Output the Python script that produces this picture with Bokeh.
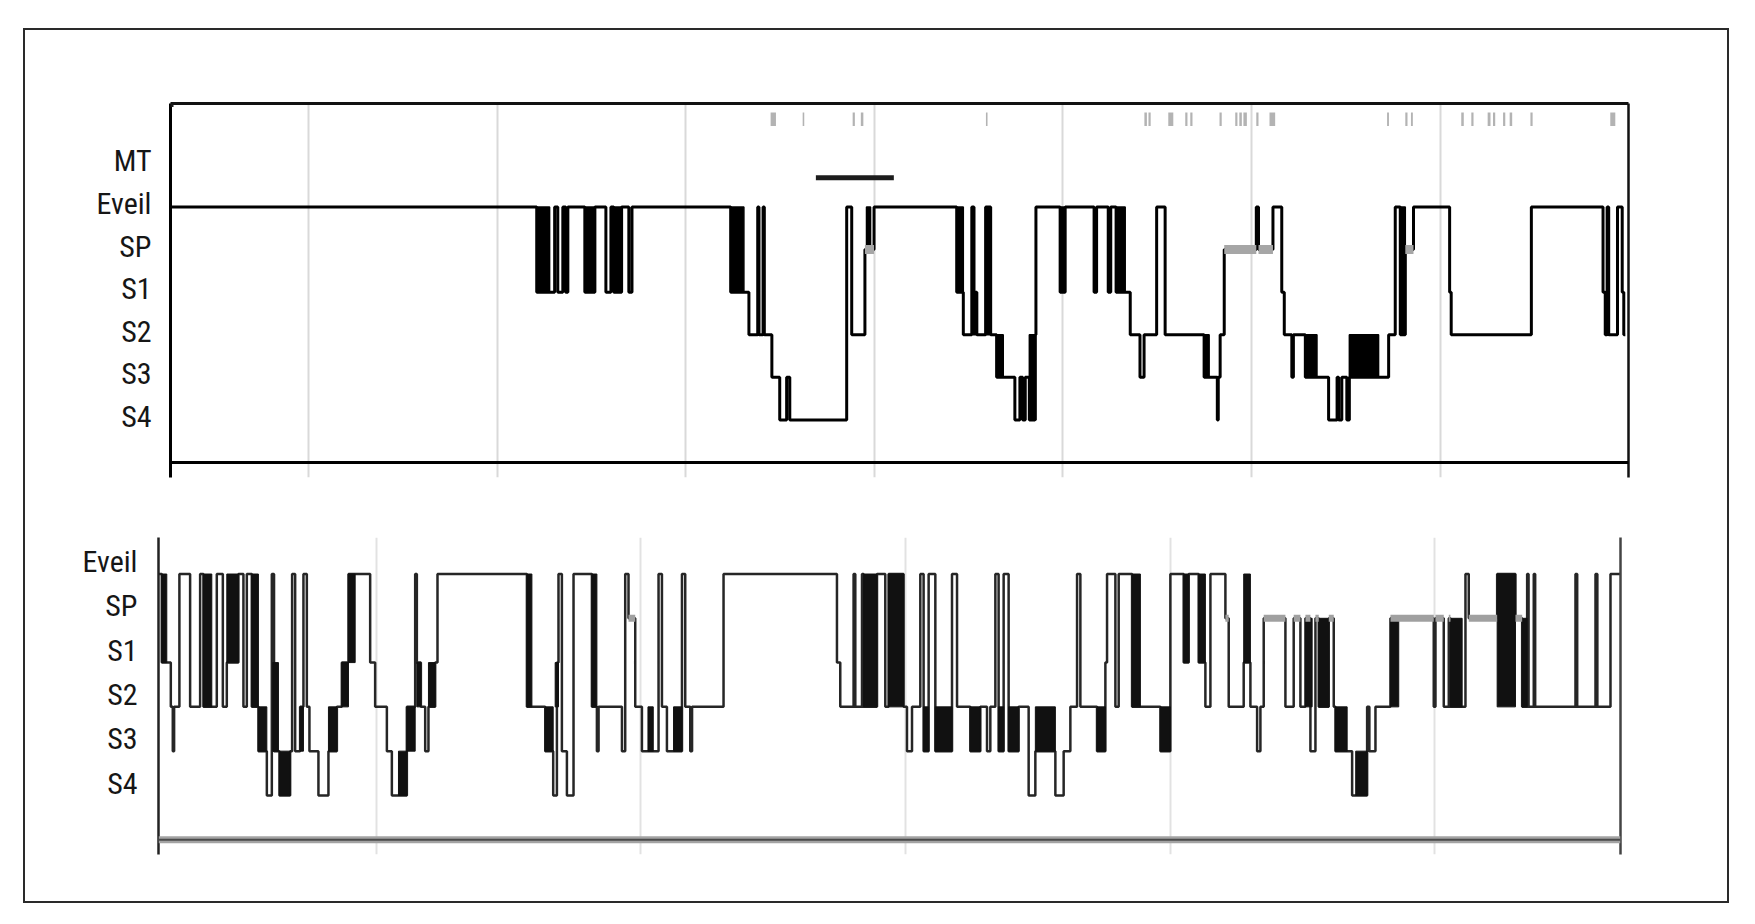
from bokeh.plotting import figure
from bokeh.models import FixedTicker, Grid, LinearAxis, Span, Range1d, BoxAnnotation
from bokeh.embed import file_html
from bokeh.resources import INLINE

# ---------------- data (minutes from start of recording) ----------------
LEVEL = {"MT": 1, "Eveil": 0, "SP": -1, "S1": -2, "S2": -3, "S3": -4, "S4": -5}
E = "Eveil"

# --- top hypnogram ---
TOP_END = 463.8
top_hour_marks = [43.9, 103.9, 163.9, 223.9, 283.9, 343.9, 403.9]
top_labels = ["MT", "Eveil", "SP", "S1", "S2", "S3", "S4"]

top_time = [0, 116.5, 122.2, 123.2, 124.8, 125.7, 126.4, 131.8, 135.0, 138.5,
            140.1, 141.0, 143.5, 145.8, 146.8, 178.2, 184.0, 186.8, 187.2, 188.5,
            188.9, 191.3, 193.8, 196.0, 197.0, 215.1, 216.7, 220.9, 223.8, 250.1,
            252.2, 254.9, 255.6, 256.5, 259.3, 260.9, 262.8, 268.6, 270.2, 271.1,
            271.9, 273.2, 275.0, 275.3, 283.0, 284.6, 293.8, 294.6, 298.3, 299.1,
            300.8, 305.3, 308.4, 309.7, 313.7, 316.4, 328.8, 333.0, 333.3, 333.9,
            335.2, 345.4, 346.1, 350.7, 353.5, 354.3, 356.7, 357.2, 361.0, 368.4,
            371.1, 371.6, 372.6, 374.2, 375.0, 387.5, 389.6, 391.2, 392.8, 395.4,
            406.9, 407.4, 432.9, 455.7, 456.4, 457.0, 457.5, 460.3, 461.8, 462.3,
            462.8]
top_stage = [E, "S1", E, "S1", E, "S1", E, "S1", E, "S1",
             E, "S1", E, "S1", E, "S1", "S2", E, "S2", E,
             "S2", "S3", "S4", "S3", "S4", E, "S2", "SP", E, "S1",
             "S2", E, "S1", "S2", E, "S2", "S3", "S4", "S3", "S4",
             "S3", "S4", "S2", E, "S1", E, "S1", E, "S1", E,
             "S1", "S2", "S3", "S2", E, "S2", "S3", "S4", "S3", "S2",
             "SP", E, "SP", E, "S1", "S2", "S3", "S2", "S3", "S4",
             "S3", "S4", "S3", "S4", "S3", "S2", E, "S2", "SP", E,
             "S1", "S2", E, "S1", "S2", E, "S2", E, "S1", "S2",
             "S2"]

# rapid alternations (solid black blocks)
top_burst_start = [116.5, 131.8, 141.0, 178.2, 221.4, 250.1, 255.2, 259.3, 262.8, 273.2,
                   283.0, 300.8, 328.8, 361.0, 375.0, 391.2]
top_burst_end = [120.6, 135.0, 143.5, 182.4, 222.7, 252.2, 256.5, 260.9, 264.9, 275.3,
                 284.6, 303.7, 330.4, 364.7, 384.3, 392.8]
top_burst_hi = [E, E, E, E, E, E, "S1", E, "S2", "S2", E, E, "S2", "S2", "S2", E]
top_burst_lo = ["S1", "S1", "S1", "S1", "SP", "S1", "S2", "S2", "S3", "S4",
                "S1", "S1", "S3", "S3", "S3", "S2"]

# movement marks (grey ticks at the top)
top_mark_start = [190.9, 201.1, 217.0, 219.6, 259.4, 309.8, 311.1, 317.4, 322.8, 324.4,
                  333.7, 338.7, 340.0, 341.3, 345.4, 349.6, 387.0, 392.8, 394.6, 410.6,
                  413.8, 419.0, 420.7, 423.9, 426.0, 432.6, 458.0]
top_mark_end = [192.6, 201.6, 217.7, 220.4, 259.9, 310.6, 311.8, 319.0, 323.5, 325.1,
                334.4, 339.4, 340.8, 342.4, 346.1, 351.4, 387.6, 393.5, 395.2, 411.4,
                414.5, 419.9, 421.4, 424.6, 426.8, 433.3, 459.6]

# black bar between MT and Eveil
mt_bar_start = [205.3]
mt_bar_end = [230.1]

# --- bottom hypnogram ---
BOT_END = 331.55
bot_hour_marks = [49.4, 109.4, 169.4, 229.4, 289.4]
bot_labels = ["Eveil", "SP", "S1", "S2", "S3", "S4"]

bot_time = [0, 0.75, 2.79, 3.24, 3.54, 4.74, 7.17, 9.44, 10.19, 13.22,
            14.59, 15.49, 18.12, 19.26, 20.03, 21.16, 22.66, 24.57, 25.70, 26.2,
            27.43, 29.85, 30.3, 30.99, 32.12, 32.87, 33.64, 34.23, 36.27, 38.54,
            40.45, 41.58, 43.08, 48.00, 49.13, 51.79, 52.92, 56.32, 58.21, 58.59,
            59.50, 60.48, 61.22, 62.74, 63.27,
            83.55, 87.70, 89.51, 90.35, 90.71, 91.48, 92.62, 94.12, 98.29, 99.42,
            99.8, 105.10, 105.84, 106.59, 108.11, 109.63, 113.40, 114.17, 115.30, 118.71,
            119.45, 120.59, 121.0, 128.14, 153.86, 154.61, 157.63, 158.02, 159.54, 159.90,
            162.94, 164.82, 165.57, 168.97, 169.74, 170.88, 172.76, 173.51, 174.65, 176.17,
            179.95, 181.09,
            184.10, 186.37, 187.89, 188.64, 189.78, 190.52, 191.66, 192.79, 195.06, 197.33,
            198.85, 203.39, 205.27, 206.79, 208.31, 209.06, 212.84, 214.73, 215.11, 217.00,
            217.75, 220.79, 227.21, 229.47, 232.49, 233.63, 235.89, 237.41, 238.55, 241.95,
            242.70, 246.10, 247.62, 249.14, 249.89,
            250.64, 255.56, 257.44, 258.96, 260.10, 261.23, 262.37, 263.12, 265.39, 266.52,
            266.91, 270.69, 274.09, 274.6, 275.98, 279.38, 289.20, 289.59, 291.47, 292.61,
            292.99, 296.39, 297.14, 303.58, 307.73, 309.25, 310.38, 310.7, 311.88, 312.2,
            321.34, 321.73, 325.88, 326.3, 329.28, 331.55]
bot_stage = [E, "S1", "S2", "S3", "S2", E, "S2", E, "S2", E,
             "S2", "S1", E, "S2", E, "S2", "S3", "S4", E, "S3",
             "S4", "S3", E, "S3", "S2", E, "S2", "S3", "S4", "S3",
             "S2", "S1", E, "S1", "S2", "S3", "S4", "S2", E, "S1",
             "S2", "S3", "S2", "S1", E,
             "S2", "S3", "S4", "S1", E, "S3", "S4", E, "S2", "S3",
             "S2", "S3", E, "SP", "S2", "S3", E, "S2", "S3", E,
             "S2", "S3", "S2", E, "S1", "S2", E, "S2", E, "S2",
             E, "S2", E, "S2", "S3", "S2", E, "S3", E, "S3",
             E, "S2",
             "S3", "S2", "S3", "S2", E, "S3", E, "S3", "S2", "S4",
             "S3", "S4", "S3", "S2", E, "S2", "S3", "S1", E, "S2",
             E, "S2", "S3", E, "S1", E, "S1", "S2", E, "SP",
             "S2", "S1", "S2", "S3", "S2",
             "SP", "S2", "SP", "S2", "SP", "S3", "SP", "S2", "SP", "S2",
             "S3", "S4", "S2", "S3", "S2", "SP", "S2", "SP", "S2", "SP",
             "S2", E, "SP", E, "SP", "S2", E, "S2", E, "S2",
             E, "S2", E, "S2", E, E]

bot_burst_start = [0.75, 10.19, 15.49, 21.16, 22.66, 25.9, 27.43, 32.12, 38.54, 41.58,
                   43.08, 54.42, 56.32, 58.59, 61.22, 83.55, 87.70, 89.96, 98.29, 111.0,
                   116.8, 159.90, 165.57, 173.51, 176.17, 184.10, 190.52, 192.79, 198.85, 212.84,
                   220.79, 227.21, 232.49, 235.89, 246.10, 260.10, 263.12, 266.91, 271.5, 279.38,
                   292.99, 303.58, 309.25]
bot_burst_end = [1.88, 12.09, 18.12, 22.66, 24.57, 27.2, 29.85, 32.87, 40.45, 43.08,
                 44.60, 56.32, 58.21, 59.50, 62.74, 84.68, 89.51, 90.71, 99.42, 112.2,
                 118.71, 162.94, 168.97, 174.65, 179.95, 186.37, 191.66, 195.06, 203.39, 214.73,
                 222.67, 229.47, 233.63, 237.41, 247.62, 261.62, 265.39, 269.56, 274.09, 281.26,
                 295.64, 307.73, 310.38]
bot_burst_hi = [E, E, E, E, "S2", "S1", "S3", "S2", "S2", "S1",
                E, "S3", "S2", "S1", "S1", E, "S2", "S1", E, "S2",
                "S2", E, E, "S2", "S2", "S2", "S2", "S2", "S2", "S2",
                E, "S2", E, E, E, "SP", "SP", "S2", "S3", "SP",
                "SP", E, "SP"]
bot_burst_lo = ["S1", "S2", "S1", "S2", "S3", "S3", "S4", "S3", "S3", "S2",
                "S1", "S4", "S3", "S2", "S2", "S2", "S3", "S2", "S2", "S3",
                "S3", "S2", "S2", "S3", "S3", "S3", "S3", "S3", "S3", "S3",
                "S2", "S3", "S1", "S1", "S1", "S2", "S2", "S3", "S4", "S2",
                "S2", "S2", "S2"]

# ---------------- helpers ----------------
FONT = "Roboto Condensed, Liberation Sans Narrow, Noto Sans Condensed, DejaVu Sans Condensed, sans-serif"
BORDER = "2px solid #2a2a2a"


def lv(names):
    return [LEVEL[n] for n in names]


def sp_runs(times, stages):
    x0, x1 = [], []
    for i in range(len(times) - 1):
        if stages[i] == "SP":
            x0.append(times[i])
            x1.append(times[i + 1])
    return x0, x1


def plain_axis(width, color):
    return LinearAxis(ticker=FixedTicker(ticks=[]), axis_line_width=width,
                      axis_line_color=color, major_tick_line_color=None,
                      minor_tick_line_color=None, major_label_text_font_size="0px")


def label_axis(p, labels, offset, standoff, lw, color):
    ticks = [LEVEL[l] + offset for l in labels]
    ax = p.yaxis[0]
    ax.ticker = FixedTicker(ticks=ticks)
    ax.major_label_overrides = {t: l for t, l in zip(ticks, labels)}
    ax.major_tick_line_color = None
    ax.minor_tick_line_color = None
    ax.axis_line_width = lw
    ax.axis_line_color = color
    ax.major_label_text_font = FONT
    ax.major_label_text_font_size = "30px"
    ax.major_label_text_color = "#161616"
    ax.major_label_standoff = standoff


def base_fig(w, h, xend, ylo, yhi, bl, br, bt, bb, margin, styles):
    p = figure(width=w, height=h, x_range=Range1d(0, xend), y_range=Range1d(ylo, yhi),
               x_axis_location=None, y_axis_location="left",
               output_backend="svg", toolbar_location=None,
               min_border_left=bl, min_border_right=br, min_border_top=bt, min_border_bottom=bb,
               margin=margin, styles=styles)
    p.grid.visible = False
    p.outline_line_color = None
    p.background_fill_color = "white"
    p.border_fill_color = "white"
    return p


# ---------------- top panel ----------------
p1 = base_fig(1706, 477, TOP_END, -6.351, 2.429, 145, 103, 73, 30,
              (28, 0, 0, 23),
              {"border-top": BORDER, "border-left": BORDER, "border-right": BORDER})
p1.add_layout(Grid(dimension=0, ticker=FixedTicker(ticks=top_hour_marks),
                   grid_line_color="#d9d9d9", grid_line_width=2))
label_axis(p1, top_labels, 0.08, 13, 3, "black")
p1.add_layout(plain_axis(3, "#111"), "above")
p1.add_layout(plain_axis(2.5, "#111"), "right")
p1.add_layout(Span(location=-6, dimension="width", line_color="black", line_width=3))
# scanned top rule continuing to the left of the axis
p1.add_layout(BoxAnnotation(left=34, right=146, top=70.5, bottom=74.5,
                            left_units="canvas", right_units="canvas",
                            top_units="canvas", bottom_units="canvas",
                            fill_color="#1a1a1a", fill_alpha=1.0, line_color=None))

p1.step(top_time, lv(top_stage), mode="after", line_color="black", line_width=3)
p1.quad(left=top_burst_start, right=top_burst_end, top=lv(top_burst_hi),
        bottom=lv(top_burst_lo), fill_color="black", line_color="black", line_width=1.5)
sx0, sx1 = sp_runs(top_time, top_stage)
p1.segment(x0=sx0, y0=LEVEL["SP"], x1=sx1, y1=LEVEL["SP"],
           line_color="#a6a6a6", line_width=9, line_cap="butt")
p1.segment(x0=mt_bar_start, y0=0.684, x1=mt_bar_end, y1=0.684,
           line_color="#1c1c1c", line_width=5, line_cap="butt")
p1.quad(left=top_mark_start, right=top_mark_end, top=2.22, bottom=1.90,
        fill_color="#b3b3b3", line_color=None)

# ---------------- bottom panel ----------------
p2 = base_fig(1706, 398, BOT_END, -6.334, 0.825, 133, 111, 32, 49,
              (0, 0, 0, 23),
              {"border-bottom": BORDER, "border-left": BORDER, "border-right": BORDER})
p2.add_layout(Grid(dimension=0, ticker=FixedTicker(ticks=bot_hour_marks),
                   grid_line_color="#e2e2e2", grid_line_width=2))
label_axis(p2, bot_labels, 0.28, 15, 2.5, "#222")
p2.add_layout(plain_axis(2.5, "#444"), "right")
p2.add_layout(Span(location=-6, dimension="width", line_color="#a3a3a3", line_width=7))
p2.add_layout(Span(location=-6, dimension="width", line_color="#4a4a4a", line_width=2))

p2.step(bot_time, lv(bot_stage), mode="after", line_color="#262626", line_width=2.5)
p2.quad(left=bot_burst_start, right=bot_burst_end, top=lv(bot_burst_hi),
        bottom=lv(bot_burst_lo), fill_color="#111111", line_color="#111111", line_width=1)
bx0, bx1 = sp_runs(bot_time, bot_stage)
p2.segment(x0=bx0, y0=LEVEL["SP"], x1=bx1, y1=LEVEL["SP"],
           line_color="#a0a0a0", line_width=7, line_cap="butt")

open("out.html", "w").write(file_html([p1, p2], INLINE))
